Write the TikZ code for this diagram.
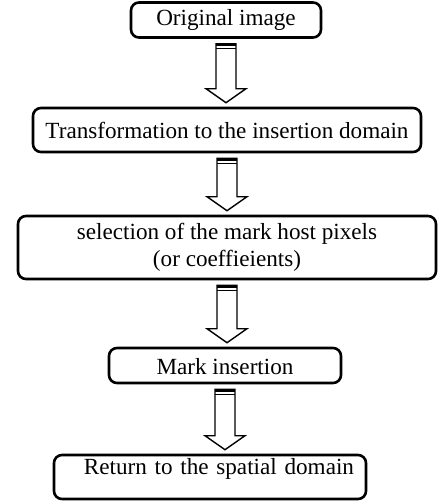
\documentclass[tikz,border=0pt]{standalone}
\usepackage{fontspec}
\setmainfont{Liberation Serif}
\usetikzlibrary{calc}

% hollow block arrow between two boxes
\newcommand{\hollowarrow}[2]{%
  \draw[hollow] let \p1=(#1.south), \p2=(#2.north) in
    (\x1-10pt,\y1-5pt) -- (\x1-10pt,\y2+18pt) -- (\x1-20pt,\y2+18pt) -- (\x1,\y2+4pt)
    -- (\x1+20pt,\y2+18pt) -- (\x1+10pt,\y2+18pt) -- (\x1+10pt,\y1-5pt) -- cycle;
  \draw[line width=2.5pt] let \p1=(#1.south) in (\x1-10pt,\y1-6pt) -- (\x1+10pt,\y1-6pt);
  \draw[line width=1pt] let \p1=(#1.south) in (\x1-10pt,\y1-10pt) -- (\x1+10pt,\y1-10pt);
}

\begin{document}
\begin{tikzpicture}[x=1pt,y=-1pt,
  stepbox/.style={draw, line width=2.6pt, rounded corners=8pt, inner sep=0pt, align=center,
    font=\fontsize{23.15}{27}\selectfont},
  hollow/.style={draw=black, fill=white, line width=1.4pt, line join=miter}]
\useasboundingbox (0,0) rectangle (439,501);

\node[stepbox, minimum width=190, minimum height=35] (orig) at (226,20) {Original image};
\node[stepbox, minimum width=388, minimum height=44] (trans) at (227,130) {Transformation to the insertion domain};
\node[stepbox, minimum width=418, minimum height=63] (sel) at (227,247.5)
  {selection of the mark host pixels\\(or coeffieients)};
\node[stepbox, minimum width=232, minimum height=35, text height=19pt, text depth=2pt] (mark) at (225,365.5) {Mark insertion};
\node[stepbox, minimum width=312, align=right, text width=288pt, inner xsep=12pt,
  text height=19pt, text depth=25pt] (ret) at (210,477) {Return to the spatial domain};

\hollowarrow{orig}{trans}
\hollowarrow{trans}{sel}
\hollowarrow{sel}{mark}
\hollowarrow{mark}{ret}

\end{tikzpicture}
\end{document}
